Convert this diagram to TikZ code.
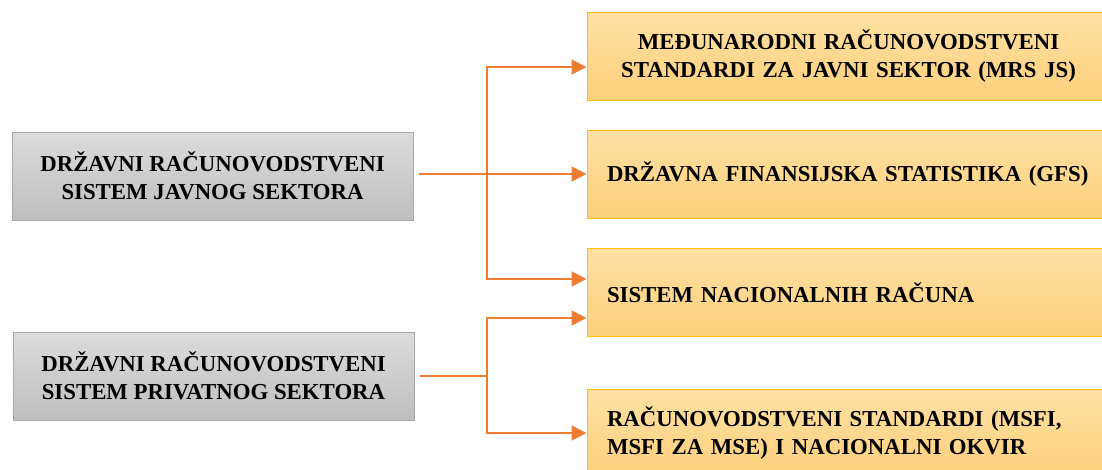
\documentclass[tikz,border=0pt]{standalone}
\usepackage{fontspec}
\setmainfont{Liberation Serif}
\usepackage{tikz}
\usetikzlibrary{arrows.meta}
\usepackage{xcolor}
\definecolor{narTamna}{HTML}{ED7D31}
\definecolor{zutaGore}{HTML}{FFE0A3}
\definecolor{zutaDole}{HTML}{FDD07C}
\definecolor{zutaRub}{HTML}{FFC000}
\definecolor{sivaGore}{HTML}{DCDCDC}
\definecolor{sivaDole}{HTML}{BEBEBE}
\definecolor{sivaRub}{HTML}{A6A6A6}
\tikzset{
    sivi/.style={draw=sivaRub,line width=1pt,top color=sivaGore,bottom color=sivaDole,
        minimum width=401pt,minimum height=88pt,inner sep=0pt,align=center,
        font=\fontsize{22.8}{28}\selectfont\bfseries},
    zuti/.style={draw=zutaRub,line width=1pt,top color=zutaGore,bottom color=zutaDole,
        text width=483pt,minimum height=88pt,inner xsep=20pt,inner ysep=0pt,
        font=\fontsize{22.8}{28}\selectfont\bfseries},
    strelica/.style={narTamna,line width=1.5pt,-{Triangle[length=15pt,width=15pt]}},
    linija/.style={narTamna,line width=1.5pt}
}

\begin{document}
\begin{tikzpicture}[x=1pt,y=-1pt]
        \useasboundingbox (0,0) rectangle (1102,469);
        \begin{scope}
        \clip (0,0) rectangle (1102,469);
        \node[sivi] (javni) at (212.5,176) {DRŽAVNI RAČUNOVODSTVENI\\SISTEM JAVNOG SEKTORA};
        \node[sivi] (privatni) at (213.5,376) {DRŽAVNI RAČUNOVODSTVENI\\SISTEM PRIVATNOG SEKTORA};
        \node[zuti,align=center] (mrs) at (848.5,56) {MEĐUNARODNI RAČUNOVODSTVENI\\STANDARDI ZA JAVNI SEKTOR (MRS JS)};
        \node[zuti,align=left] (gfs) at (848.5,174) {DRŽAVNA FINANSIJSKA STATISTIKA (GFS)};
        \node[zuti,align=left] (sna) at (848.5,292.5) {SISTEM NACIONALNIH RAČUNA};
        \node[zuti,align=left] (msfi) at (848.5,433) {RAČUNOVODSTVENI STANDARDI (MSFI,\\MSFI ZA MSE) I NACIONALNI OKVIR};
        \end{scope}
        \coordinate (razvod1) at (487,174);
        \coordinate (razvod2) at (487,376);
        \draw[strelica,shorten <=5pt] (javni.east |- gfs.west) -- (gfs.west);
        \draw[strelica] (razvod1) |- ([yshift=-11pt]mrs.west);
        \draw[strelica] (razvod1) |- ([yshift=13.5pt]sna.west);
        \draw[linija,shorten <=5pt] (privatni.east) -- (razvod2);
        \draw[strelica] (razvod2) |- ([yshift=-25.5pt]sna.west);
        \draw[strelica] (razvod2) |- (msfi.west);
    \end{tikzpicture}
\end{document}
